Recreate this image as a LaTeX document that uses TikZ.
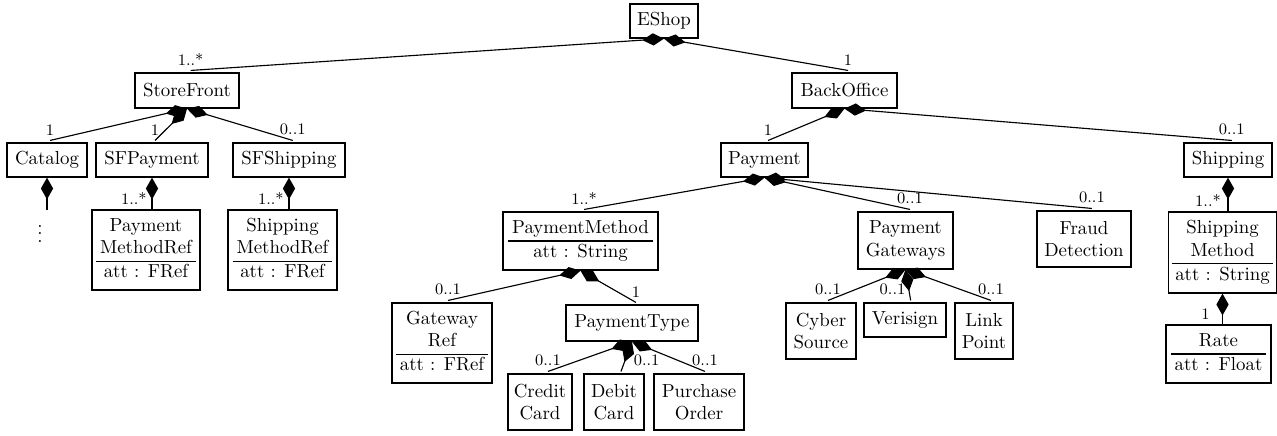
\documentclass[tikz,border=0pt]{standalone}
\usetikzlibrary{arrows.meta}
\newlength\pxu \setlength\pxu{0.53pt}
\setlength\arrayrulewidth{0.65pt}
\newcommand\clsbox[1]{\begin{tabular}{@{\hspace{2pt}}c@{\hspace{2pt}}}#1\end{tabular}}
\tikzset{
  cls/.style 2 args={draw, line width=0.7pt, inner sep=1.5pt, align=center,
    minimum width={#1*\pxu}, minimum height={#2*\pxu}},
  comp/.style={line width=0.6pt, -{Diamond[length=11.5pt,width=6.5pt]}},
  mult/.style={font=\fontsize{8.5}{10}\selectfont, inner sep=2.5pt}
}
\begin{document}
\begin{tikzpicture}[x=0.53pt,y=-0.53pt]
\useasboundingbox (0,0) rectangle (1277,435);
% nodes
\node[cls={68}{34}] (eshop) at (664,21) {EShop};
\node[cls={104}{35}] (storefront) at (187,90.5) {StoreFront};
\node[cls={105}{35}] (backoffice) at (844.5,90.5) {BackOffice};
\node[cls={80}{34}] (catalog) at (47,160) {Catalog};
\node[cls={112}{34}] (sfpayment) at (152,160) {SFPayment};
\node[cls={112}{34}] (sfshipping) at (289,160) {SFShipping};
\node[cls={87}{34}] (payment) at (764.5,160) {Payment};
\node[cls={88}{34}] (shipping) at (1228,160) {Shipping};
\node[inner sep=0pt] (dots) at (40,228) {$\vdots$};
\coordinate (dotstop) at (47,210);
\node[cls={108}{80}] (pmref) at (146,250) {\clsbox{Payment\\MethodRef\\\hline att : FRef}};
\node[cls={109}{80}] (smref) at (282.5,250) {\clsbox{Shipping\\MethodRef\\\hline att : FRef}};
\node[cls={155}{58}] (paymentmethod) at (580.5,241) {\clsbox{PaymentMethod\\\hline att : String}};
\node[cls={95}{57}] (pg) at (905.5,240.5) {Payment\\Gateways};
\node[cls={94}{56}] (fraud) at (1084,239) {Fraud\\Detection};
\node[cls={107}{81}] (shipmethod) at (1222.5,252.5) {\clsbox{Shipping\\Method\\\hline att : String}};
\node[cls={105}{58}] (rate) at (1218.5,354) {\clsbox{Rate\\\hline att : Float}};
\node[cls={100}{80}] (gatewayref) at (442,343) {\clsbox{Gateway\\Ref\\\hline att : FRef}};
\node[cls={132}{36}] (paymenttype) at (632,323) {PaymentType};
\node[cls={70}{56}] (cyber) at (821,331) {Cyber\\Source};
\node[cls={82}{34}] (verisign) at (905,320) {Verisign};
\node[cls={58}{56}] (link) at (984,331) {Link\\Point};
\node[cls={64}{56}] (credit) at (540,402) {Credit\\Card};
\node[cls={60}{56}] (debit) at (614,402) {Debit\\Card};
\node[cls={90}{56}] (purchase) at (699,402) {Purchase\\Order};
% connectors
\draw[comp] ([shift={(1.9pt,1pt)}]storefront.north) node[mult,above]{1..*} -- (eshop.south);
\draw[comp] ([shift={(1.9pt,1pt)}]backoffice.north) node[mult,above]{1} -- (eshop.south);
\draw[comp] ([shift={(1.6pt,1pt)}]catalog.north) node[mult,above]{1} -- (storefront.south);
\draw[comp] ([shift={(1.6pt,1pt)}]sfpayment.north) node[mult,above]{1} -- (storefront.south);
\draw[comp] ([shift={(2pt,1pt)}]sfshipping.north) node[mult,above]{0..1} -- (storefront.south);
\draw[comp] ([shift={(1.9pt,1pt)}]payment.north) node[mult,above]{1} -- (backoffice.south);
\draw[comp] ([shift={(2pt,1pt)}]shipping.north) node[mult,above]{0..1} -- (backoffice.south);
\draw[comp] (dotstop) -- (catalog.south);
\draw[comp] (pmref.north -| sfpayment.south) node[mult,anchor=south east]{1..*} -- (sfpayment.south);
\draw[comp] (smref.north -| sfshipping.south) node[mult,anchor=south east]{1..*} -- (sfshipping.south);
\draw[comp] ([shift={(1.9pt,1pt)}]paymentmethod.north) node[mult,above]{1..*} -- (payment.south);
\draw[comp] ([shift={(2.4pt,1pt)}]pg.north) node[mult,above]{0..1} -- (payment.south);
\draw[comp] ([shift={(4.2pt,1pt)}]fraud.north) node[mult,above]{0..1} -- (payment.south);
\draw[comp] (shipmethod.north -| shipping.south) node[mult,anchor=south east,xshift=-1pt]{1..*} -- (shipping.south);
\draw[comp] (rate.north -| shipmethod.south) node[mult,anchor=south east,xshift=-4pt]{1} -- (shipmethod.south);
\draw[comp] ([shift={(3.2pt,1pt)}]gatewayref.north) node[mult,above]{0..1} -- (paymentmethod.south);
\draw[comp] ([shift={(2.1pt,1pt)}]paymenttype.north) node[mult,above]{1} -- (paymentmethod.south);
\draw[comp] ([shift={(4.2pt,1pt)}]credit.north) node[mult,above]{0..1} -- (paymenttype.south);
\draw[comp] ([shift={(3.7pt,1pt)}]debit.north) node[mult,anchor=south west,xshift=4pt]{0..1} -- (paymenttype.south);
\draw[comp] ([shift={(3.2pt,1pt)}]purchase.north) node[mult,above]{0..1} -- (paymenttype.south);
\draw[comp] ([shift={(3.7pt,1pt)}]cyber.north) node[mult,above]{0..1} -- (pg.south);
\draw[comp] ([shift={(3pt,1pt)}]verisign.north) node[mult,anchor=south east]{0..1} -- (pg.south);
\draw[comp] ([shift={(3.7pt,1pt)}]link.north) node[mult,above]{0..1} -- (pg.south);
\end{tikzpicture}
\end{document}
